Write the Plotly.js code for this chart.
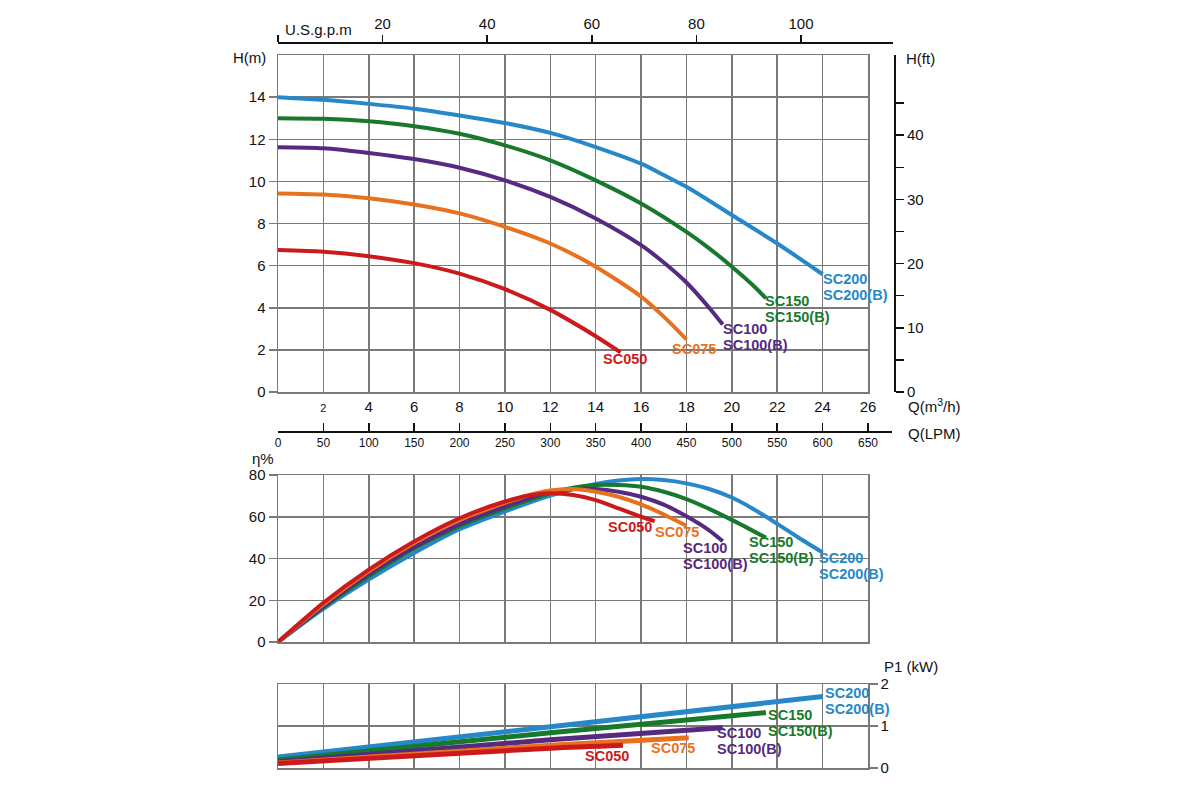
<!DOCTYPE html>
<html>
<head>
<meta charset="utf-8">
<script src="https://cdn.plot.ly/plotly-3.0.1.min.js"></script>
<style>
  body { margin: 0; background: #fff; }
  #chart { width: 1200px; height: 800px; }
</style>
</head>
<body>
<div id="chart"></div>
<script>
// pump models, drawn in this order (SC050 ends up on top)
var models = ['SC200', 'SC150', 'SC100', 'SC075', 'SC050'];
var colors = ['#2688c8', '#17792b', '#552a80', '#e8711f', '#cc1a1c'];
var labelLines = [
  ['SC200', 'SC200(B)'],
  ['SC150', 'SC150(B)'],
  ['SC100', 'SC100(B)'],
  ['SC075'],
  ['SC050']
];

// head curves: Q (m3/h) -> H (m)
var qHead200 = [0, 2, 4, 6, 8, 10, 12, 14, 16, 17, 18, 20, 22, 24];
var head200 = [14.0, 13.87, 13.68, 13.45, 13.13, 12.77, 12.3, 11.63, 10.84, 10.3, 9.74, 8.4, 7.05, 5.59];
var qHead150 = [0, 2, 4, 6, 8, 10, 12, 14, 16, 18, 19, 20, 21, 21.5];
var head150 = [13.0, 12.97, 12.85, 12.62, 12.26, 11.71, 11.0, 10.05, 8.95, 7.6, 6.82, 5.95, 5.0, 4.45];
var qHead100 = [0, 2, 4, 6, 8, 10, 12, 14, 16, 17, 18, 19, 19.6];
var head100 = [11.62, 11.57, 11.35, 11.06, 10.65, 10.05, 9.26, 8.24, 6.97, 6.15, 5.2, 4.0, 3.2];
var qHead075 = [0, 2, 4, 6, 8, 10, 12, 14, 16, 17, 18];
var head075 = [9.43, 9.38, 9.2, 8.9, 8.48, 7.84, 7.05, 5.95, 4.53, 3.58, 2.5];
var qHead050 = [0, 2, 4, 6, 8, 10, 12, 14, 15.1];
var head050 = [6.74, 6.66, 6.45, 6.12, 5.62, 4.88, 3.9, 2.65, 1.88];

// efficiency curves: Q (m3/h) -> eta (%)
var qEff200 = [0, 2, 4, 6, 8, 10, 12, 14, 15, 16, 17, 18, 19, 20, 21, 22, 23, 24];
var eff200 = [0, 15.9, 29.9, 42.6, 54, 62.5, 70.1, 75.7, 77.4, 78.1, 77.6, 76, 73.3, 69.2, 63.4, 56.6, 49.6, 42.9];
var qEff150 = [0, 2, 4, 6, 8, 10, 12, 13, 14, 15, 16, 17, 18, 19, 20, 21.5];
var eff150 = [0, 16.7, 31.5, 44.8, 55.5, 64, 71.2, 73.9, 75.2, 75.2, 74.4, 72, 68.5, 63.8, 58.5, 50];
var qEff100 = [0, 2, 4, 6, 8, 10, 12, 13, 14, 15, 16, 17, 18, 19, 19.6];
var eff100 = [0, 17, 32.5, 45.5, 56.5, 65, 72, 73.3, 73.3, 72, 69.6, 65.8, 60.2, 53.5, 48.3];
var qEff075 = [0, 2, 4, 6, 8, 10, 11, 12, 13, 14, 15, 16, 17, 18];
var eff075 = [0, 18, 33.9, 47.4, 58.5, 66.6, 70.2, 72.6, 73.3, 72, 69.6, 65.9, 61.1, 55.7];
var qEff050 = [0, 2, 4, 6, 8, 10, 11, 12, 13, 14, 15, 16, 16.6];
var eff050 = [0, 18.8, 34.7, 48.2, 59.3, 67.3, 70.1, 71.2, 70.4, 68, 64, 60, 57.9];

// input power: Q (m3/h) -> P1 (kW)
var qPow200 = [0, 12, 24];
var pow200 = [0.26, 0.98, 1.70];
var qPow150 = [0, 12, 21.5];
var pow150 = [0.19, 0.84, 1.32];
var qPow100 = [0, 12, 19.6];
var pow100 = [0.15, 0.67, 0.96];
var qPow075 = [0, 12, 18.1];
var pow075 = [0.12, 0.54, 0.72];
var qPow050 = [0, 12, 15.2];
var pow050 = [0.11, 0.47, 0.54];

// axis ticks
var qTicks = [2, 4, 6, 8, 10, 12, 14, 16, 18, 20, 22, 24, 26];
var hTicks = [0, 2, 4, 6, 8, 10, 12, 14];
var ftTicks = [0, 10, 20, 30, 40];
var ftMinor = [5, 15, 25, 35, 45];
var gpmTicks = [20, 40, 60, 80, 100];
var lpmTicks = [0, 50, 100, 150, 200, 250, 300, 350, 400, 450, 500, 550, 600, 650];
var effTicks = [0, 20, 40, 60, 80];
var powTicks = [0, 1, 2];

var headQ = [qHead200, qHead150, qHead100, qHead075, qHead050];
var headH = [head200, head150, head100, head075, head050];
var effQ = [qEff200, qEff150, qEff100, qEff075, qEff050];
var effE = [eff200, eff150, eff100, eff075, eff050];
var powQ = [qPow200, qPow150, qPow100, qPow075, qPow050];
var powP = [pow200, pow150, pow100, pow075, pow050];

// label offsets from the end of each curve, px (dx, dy down to first line)
var headOff = [[-2, 5], [-3, 3], [-2, 4], [-16, 10], [-20, 7]];
var effOff = [[-6, 6], [-19, 4], [-42, 7], [-33, 6], [-49, 6]];
var powOff = [[0, -4], [0, 2], [-8, 5], [-40, 10], [-40, 11]];
var LINE_GAP = 16;

var FONT = 'Liberation Sans, Arial, sans-serif';
var GRID = '#7a7a7a';

var data = [];
var annotations = [];

function addSet(qs, vs, xa, ya, width, offs) {
  for (var i = 0; i < models.length; i++) {
    data.push({
      type: 'scatter', mode: 'lines', name: models[i],
      x: qs[i], y: vs[i], xaxis: xa, yaxis: ya,
      line: {color: colors[i], width: width, shape: 'spline', smoothing: 0.7},
      hoverinfo: 'skip', showlegend: false
    });
    var n = qs[i].length - 1;
    var o = offs[i];
    labelLines[i].forEach(function (txt, k) {
      annotations.push({
        x: qs[i][n], y: vs[i][n], xref: xa, yref: ya,
        text: txt, showarrow: false, xanchor: 'left', yanchor: 'middle',
        xshift: o[0], yshift: -(o[1] + k * LINE_GAP),
        font: {family: FONT, size: 14.5, color: colors[i], weight: 'bold'}
      });
    });
  }
}

addSet(headQ, headH, 'x', 'y', 4, headOff);
addSet(effQ, effE, 'x2', 'y2', 4, effOff);
addSet(powQ, powP, 'x3', 'y3', 5, powOff);

// empty traces so the secondary scales (ft, gpm, LPM) get drawn
data.push({type: 'scatter', x: [], y: [], xaxis: 'x4', yaxis: 'y4', hoverinfo: 'skip', showlegend: false});
data.push({type: 'scatter', x: [], y: [], xaxis: 'x5', yaxis: 'y4', hoverinfo: 'skip', showlegend: false});

function paperLabel(text, x, y, anchor, size) {
  annotations.push({
    text: text, x: x / 1200, y: 1 - y / 800, xref: 'paper', yref: 'paper',
    xanchor: anchor, yanchor: 'middle', showarrow: false,
    font: {family: FONT, size: size || 15, color: '#111'}
  });
}
paperLabel('H(m)', 268, 57, 'right');
paperLabel('H(ft)', 904, 58, 'left');
paperLabel('U.S.g.p.m', 283, 29, 'left');
paperLabel('Q(m<sup>3</sup>/h)', 906, 405, 'left');
paperLabel('Q(LPM)', 906, 433, 'left');
paperLabel('η%', 250, 458, 'left');
paperLabel('P1 (kW)', 882, 666, 'left');

var xL = 278 / 1200, xR = 868 / 1200;
var tickFont = {family: FONT, size: 15, color: '#111'};

function gridX(anchor, labels) {
  return {
    domain: [xL, xR], anchor: anchor, range: [0, 26],
    tickmode: 'array', tickvals: qTicks,
    ticktext: ['<span style="font-size:11px">2</span>'].concat(qTicks.slice(1).map(String)),
    showticklabels: labels, ticks: '', tickfont: tickFont,
    showgrid: true, gridcolor: GRID, gridwidth: 1.5, zeroline: false,
    showline: true, mirror: true, linecolor: GRID, linewidth: 1.5,
    fixedrange: true
  };
}

function gridY(domain, anchor, range, vals, side) {
  return {
    domain: domain, anchor: anchor, range: range, side: side,
    tickmode: 'array', tickvals: vals, tickfont: tickFont,
    ticks: 'outside', ticklen: 8, tickwidth: 1.5, tickcolor: GRID,
    showgrid: true, gridcolor: GRID, gridwidth: 1.5, zeroline: false,
    showline: true, mirror: true, linecolor: GRID, linewidth: 1.5
  };
}

var layout = {
  width: 1200, height: 800,
  margin: {l: 0, r: 0, t: 0, b: 0},
  paper_bgcolor: '#fff', plot_bgcolor: 'rgba(0,0,0,0)',
  showlegend: false,
  font: {family: FONT, color: '#111'},

  xaxis: gridX('y', true),
  yaxis: gridY([1 - 392 / 800, 1 - 55 / 800], 'x', [0, 16], hTicks, 'left'),

  xaxis2: gridX('y2', false),
  yaxis2: gridY([1 - 642 / 800, 1 - 475 / 800], 'x2', [0, 80], effTicks, 'left'),

  xaxis3: gridX('y3', false),
  yaxis3: gridY([1 - 768 / 800, 1 - 684 / 800], 'x3', [0, 2], powTicks, 'right'),

  // head in feet, right hand scale
  yaxis4: {
    domain: [1 - 392 / 800, 1 - 55 / 800], anchor: 'free', position: 895 / 1200,
    side: 'right', range: [0, 16 * 3.28084],
    tickmode: 'array', tickvals: ftTicks,
    tickfont: tickFont, ticks: 'outside', ticklen: 8, tickwidth: 1.5, tickcolor: '#111',
    minor: {tickmode: 'array', tickvals: ftMinor, ticks: 'outside', ticklen: 8,
            tickwidth: 1.5, tickcolor: '#111', showgrid: false},
    showgrid: false, zeroline: false,
    showline: true, linecolor: '#111', linewidth: 2
  },

  // US gallons per minute, top scale
  xaxis4: {
    domain: [xL, 893 / 1200], anchor: 'free', position: 1 - 42 / 800,
    side: 'top', range: [0, 615 / 5.23],
    tickmode: 'array', tickvals: gpmTicks,
    tickfont: tickFont, ticks: 'outside', ticklen: 7, tickwidth: 1.5, tickcolor: '#111',
    minor: {tickmode: 'array', tickvals: [0], ticks: 'outside', ticklen: 7,
            tickwidth: 1.5, tickcolor: '#111', showgrid: false},
    showgrid: false, zeroline: false,
    showline: true, linecolor: '#111', linewidth: 1.5
  },

  // litres per minute, scale under the head chart
  xaxis5: {
    domain: [xL, 892 / 1200], anchor: 'free', position: 1 - 432 / 800,
    side: 'bottom', range: [0, 614 / 0.9077],
    tickmode: 'array', tickvals: lpmTicks,
    tickfont: {family: FONT, size: 12, color: '#111'},
    ticks: 'inside', ticklen: 8, tickwidth: 1.5, tickcolor: '#111',
    showgrid: false, zeroline: false,
    showline: true, linecolor: '#111', linewidth: 2
  },

  annotations: annotations
};

Plotly.newPlot('chart', data, layout, {displayModeBar: false, staticPlot: true});
</script>
</body>
</html>
